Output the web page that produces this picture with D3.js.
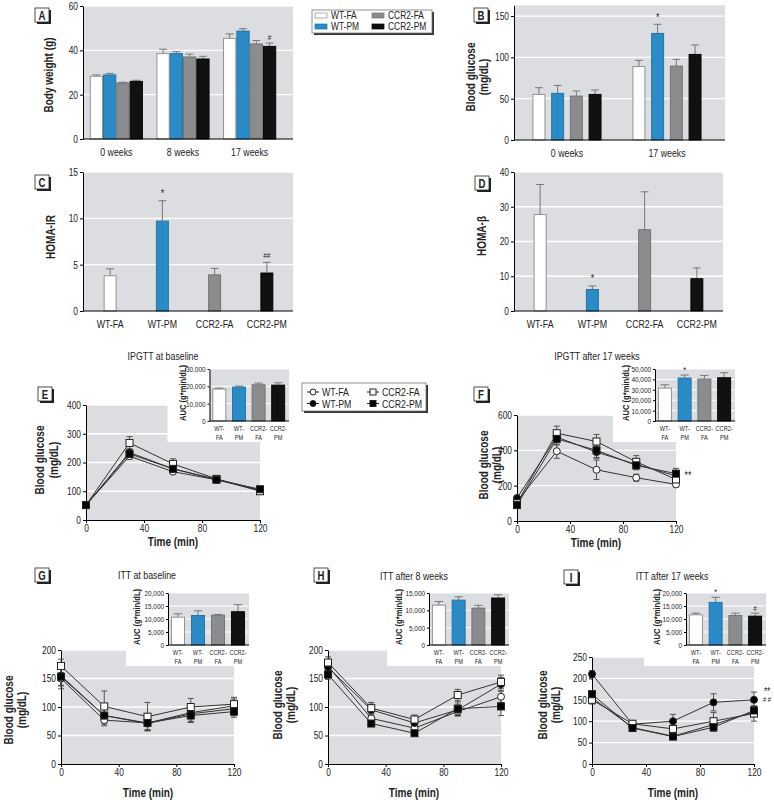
<!DOCTYPE html>
<html><head><meta charset="utf-8">
<script src="https://cdn.jsdelivr.net/npm/d3@7"></script>
<style>body{margin:0;background:#fff}</style>
</head><body>
<script>
// ---------------- DATA ----------------
const seriesNames = ["WT-FA","WT-PM","CCR2-FA","CCR2-PM"];
const insetLabels = [["WT-","FA"],["WT-","PM"],["CCR2-","FA"],["CCR2-","PM"]];

// A: body weight (g)
const bwCategories = ["0 weeks","8 weeks","17 weeks"];
const bwWTFA = [28.3,38.5,45.4],  bwWTFAse = [0.6,2.0,2.0];
const bwWTPM = [28.9,38.5,48.7],  bwWTPMse = [0.7,0.9,1.1];
const bwCCFA = [25.3,37.0,42.9],  bwCCFAse = [0.3,1.3,1.5];
const bwCCPM = [26.0,36.1,41.8],  bwCCPMse = [0.5,1.2,1.5];
const bwTicks = [0,20,40,60];
const bwMarks = [{cat:2, series:3, text:"#"}];

// B: blood glucose (mg/dL)
const bgCategories = ["0 weeks","17 weeks"];
const bgWTFA = [55.2,89.0],  bgWTFAse = [8.1,7.4];
const bgWTPM = [56.5,129.0], bgWTPMse = [9.5,11.0];
const bgCCFA = [53.2,89.5],  bgCCFAse = [6.1,8.1];
const bgCCPM = [55.2,103.6], bgCCPMse = [5.3,11.4];
const bgTicks = [0,50,100,150];
const bgMarks = [{cat:1, series:1, text:"*"}];

// C: HOMA-IR
const homaIR = [3.8,9.7,3.9,4.1], homaIRse = [0.75,2.2,0.7,1.15];
const homaIRTicks = [0,5,10,15];
const homaIRMarks = [{series:1,text:"*"},{series:3,text:"##"}];

// D: HOMA-beta
const homaB = [27.75,6.2,23.4,9.3], homaBse = [8.65,1.0,10.9,3.1];
const homaBTicks = [0,10,20,30,40];
const homaBMarks = [{series:1,text:"*"}];

// time points (min)
const times = [0,30,60,90,120];
const timeTicks = [0,40,80,120];

// E: IPGTT at baseline
const eWTFA = [52,222,168,140,103], eWTFAse = [4,10,8,6,6];
const eWTPM = [52,235,178,142,105], eWTPMse = [4,12,10,6,6];
const eCCFA = [52,268,195,143,100], eCCFAse = [4,22,18,6,6];
const eCCPM = [52,230,178,140,107], eCCPMse = [4,10,10,6,6];
const eTicks = [0,100,200,300,400];
const eAUC = [18400,19550,20900,20700], eAUCse = [600,600,950,1350];
const eAUCTicks = [0,10000,20000,30000];

// F: IPGTT after 17 weeks
const fWTFA = [110,395,290,245,207], fWTFAse = [10,40,55,20,15];
const fWTPM = [130,475,390,320,255], fWTPMse = [10,30,35,25,25];
const fCCFA = [100,497,450,335,235], fCCFAse = [10,40,40,35,25];
const fCCPM = [90,465,400,315,268],  fCCPMse = [10,35,40,25,30];
const fTicks = [0,200,400,600];
const fAUC = [31600,41300,40300,41600], fAUCse = [3200,2900,3550,4850];
const fAUCTicks = [0,10000,20000,30000,40000,50000];

// G: ITT at baseline
const gWTFA = [150,77,72,90,102],  gWTFAse = [18,10,12,15,12];
const gWTPM = [155,85,71,88,97],   gWTPMse = [18,12,12,15,12];
const gCCFA = [172,101,83,100,105],gCCFAse = [12,27,25,15,12];
const gCCPM = [153,85,72,85,92],   gCCPMse = [15,15,12,12,10];
const gTicks = [0,50,100,150,200];
const gAUC = [10700,11350,11500,12800], gAUCse = [1300,1800,250,2700];
const gAUCTicks = [0,5000,10000,15000,20000];

// H: ITT after 8 weeks
const hWTFA = [172,80,63,92,118],  hWTFAse = [8,8,8,8,10];
const hWTPM = [170,95,72,95,140],  hWTPMse = [8,10,8,10,12];
const hCCFA = [178,98,78,121,144], hCCFAse = [10,10,8,10,12];
const hCCPM = [157,71,54,97,101],  hCCPMse = [8,5,5,12,16];
const hTicks = [0,50,100,150,200];
const hAUC = [11500,12950,10650,13550], hAUCse = [1050,950,800,950];
const hAUCTicks = [0,5000,10000,15000];

// I: ITT after 17 weeks
const iWTFA = [155,85,65,92,122],  iWTFAse = [8,6,6,15,12];
const iWTPM = [210,93,100,144,150],iWTPMse = [8,8,16,20,18];
const iCCFA = [150,94,82,100,118], iCCFAse = [10,8,8,20,18];
const iCCPM = [163,84,64,86,125],  iCCPMse = [8,5,5,10,10];
const iTicks = [0,50,100,150,200,250];
const iAUC = [11600,16400,11350,11100], iAUCse = [650,1950,900,1150];
const iAUCTicks = [0,5000,10000,15000,20000];

// ---------------- STYLE ----------------
const FONT = "'Liberation Sans',Arial,sans-serif";
const CONDENSE = 0.8;
const BG = "#dcdde0";
const fills = ["#ffffff","#2b8bc6","#8b8c8e","#111111"];
const strokes = ["#8a8a8a","#1f6e9e","#6e6e6e","#000000"];
const markers = ["circle-open","circle","square-open","square"];

const svg = d3.select("body").append("svg").attr("width",774).attr("height",800)
  .style("font-family",FONT);

function txt(x,y,s,size,opts={}){
  const t = svg.append("text").attr("x",x).attr("y",y).text(s)
    .attr("font-size",size).attr("fill",opts.fill||"#222")
    .attr("text-anchor",opts.anchor||"middle")
    .attr("font-weight",opts.bold?"bold":"normal");
  if(opts.rotate) t.attr("transform",`rotate(-90,${x},${y})`).attr("dominant-baseline","central");
  return t;
}

function panelLabel(x,y,letter){
  svg.append("rect").attr("x",x+2).attr("y",y+2).attr("width",14).attr("height",14).attr("fill","#222");
  svg.append("rect").attr("x",x).attr("y",y).attr("width",14).attr("height",14).attr("fill","#fff").attr("stroke","#222").attr("stroke-width",0.8);
  txt(x+7,y+11.5,letter,12,{bold:true});
}

function frame(p){
  const y = d3.scaleLinear().domain([0,p.max]).range([p.y1,p.y0]);
  svg.append("rect").attr("x",p.x0).attr("y",y(p.max)).attr("width",p.x1-p.x0).attr("height",p.y1-y(p.max)).attr("fill",BG);
  svg.append("g").selectAll("line").data(p.ticks.filter(t=>t>0)).join("line")
    .attr("x1",p.x0).attr("x2",p.x1).attr("y1",d=>y(d)).attr("y2",d=>y(d))
    .attr("stroke","#fff").attr("stroke-width",p.gridW||1.3);
  return y;
}

function yAxis(p,y,fmt,size){
  const ax = d3.axisLeft(y).tickValues(p.ticks).tickSize(p.tick||3).tickSizeOuter(0).tickPadding(2);
  if(fmt) ax.tickFormat(fmt);
  const g = svg.append("g").attr("transform",`translate(${p.x0},0)`).call(ax);
  g.select(".domain").attr("stroke","#000").attr("stroke-width",1);
  g.selectAll(".tick line").attr("stroke","#000");
  g.selectAll("text").attr("font-family",FONT).attr("font-size",size).attr("fill","#222");
  return g;
}

function xBaseline(p){
  svg.append("line").attr("x1",p.x0).attr("x2",p.x1).attr("y1",p.y1).attr("y2",p.y1).attr("stroke","#000").attr("stroke-width",1);
}

function drawBars(y,bars,w,capW){
  const g = svg.append("g");
  g.selectAll("line.eb").data(bars).join("line").attr("class","eb")
    .attr("x1",d=>d.x).attr("x2",d=>d.x).attr("y1",d=>y(d.v)).attr("y2",d=>y(d.v+d.se))
    .attr("stroke","#777").attr("stroke-width",1);
  g.selectAll("line.cap").data(bars).join("line").attr("class","cap")
    .attr("x1",d=>d.x-capW/2).attr("x2",d=>d.x+capW/2).attr("y1",d=>y(d.v+d.se)).attr("y2",d=>y(d.v+d.se))
    .attr("stroke","#777").attr("stroke-width",1);
  g.selectAll("rect").data(bars).join("rect")
    .attr("x",d=>d.x-w/2+0.5).attr("y",d=>y(d.v)).attr("width",w-1).attr("height",d=>y(0)-y(d.v))
    .attr("fill",d=>fills[d.s]).attr("stroke",d=>strokes[d.s]).attr("stroke-width",0.9);
}

// ---------- grouped bar panel (A, B) ----------
function groupedPanel(p,cats,vals,ses,marks){
  const y = frame(p);
  const band = d3.scaleBand().domain(cats).range(p.band);
  const bars = [];
  cats.forEach((c,i)=>{
    const cx = band(c)+band.bandwidth()/2;
    vals.forEach((arr,j)=>bars.push({x:cx+(j-1.5)*p.step, v:arr[i], se:ses[j][i], s:j, c:i}));
  });
  drawBars(y,bars,p.barW,p.barW*0.6);
  yAxis(p,y,null,10.5);
  xBaseline(p);
  svg.append("g").selectAll("text").data(cats).join("text")
    .attr("x",c=>band(c)+band.bandwidth()/2).attr("y",p.y1+16.5).text(c=>c)
    .attr("text-anchor","middle").attr("font-size",11).attr("fill","#222");
  marks.forEach(m=>{
    const b = bars.find(b=>b.s===m.series && b.c===m.cat);
    txt(b.x,y(b.v+b.se)-3,m.text,m.text==="*"?11:8,{});
  });
}

// ---------- simple bar panel (C, D, insets) ----------
function simplePanel(p,vals,ses,marks,fmt,tickSize,labelSize,twoLine){
  const y = frame(p);
  const band = d3.scaleBand().domain(seriesNames).range(p.band);
  const bars = vals.map((v,i)=>({x:band(seriesNames[i])+band.bandwidth()/2, v, se:ses[i], s:i}));
  drawBars(y,bars,p.barW,p.barW*0.6);
  yAxis(p,y,fmt,tickSize);
  xBaseline(p);
  if(twoLine){
    const g = svg.append("g").selectAll("text").data(insetLabels).join("text")
      .attr("x",(d,i)=>bars[i].x).attr("y",p.y1+9.5).attr("text-anchor","middle")
      .attr("font-size",labelSize).attr("fill","#222").attr("data-condense",0.7);
    g.append("tspan").attr("x",(d,i)=>bars[i].x).text(d=>d[0]);
    g.append("tspan").attr("x",(d,i)=>bars[i].x).attr("dy",9).text(d=>d[1]);
  } else {
    svg.append("g").selectAll("text").data(seriesNames).join("text")
      .attr("x",(d,i)=>bars[i].x).attr("y",p.y1+16.5).text(d=>d)
      .attr("text-anchor","middle").attr("font-size",labelSize).attr("fill","#222");
  }
  marks.forEach(m=>{
    const b = bars[m.series];
    const big = !twoLine;
    txt(b.x,y(b.v+b.se)-(big?4:2.5),m.text,m.text==="*"?(big?11:9):(big?8:7),{});
  });
}

// ---------- line panel (E-I) ----------
function drawMarker(g,kind,x,y,sz){
  if(kind.startsWith("circle")){
    g.append("circle").attr("cx",x).attr("cy",y).attr("r",sz/2)
      .attr("fill",kind==="circle"?"#000":"#fff").attr("stroke","#222").attr("stroke-width",1);
  } else {
    g.append("rect").attr("x",x-sz/2).attr("y",y-sz/2).attr("width",sz).attr("height",sz)
      .attr("fill",kind==="square"?"#000":"#fff").attr("stroke","#222").attr("stroke-width",1);
  }
}

function linePanel(p,series,ses,inset){
  const y = frame(p);
  const x = d3.scaleLinear().domain([0,120]).range([p.x0,p.x1]);
  svg.append("rect").attr("x",inset.x0-42).attr("y",p.y0-2).attr("width",p.x1-(inset.x0-42)+2)
    .attr("height",inset.y1+21-(p.y0-2)).attr("fill","#fff");
  yAxis(p,y,null,10.5);
  const ax = d3.axisBottom(x).tickValues(timeTicks).tickSize(3).tickSizeOuter(0).tickPadding(2);
  const gx = svg.append("g").attr("transform",`translate(0,${p.y1})`).call(ax);
  gx.select(".domain").attr("stroke","#000");
  gx.selectAll(".tick line").attr("stroke","#000");
  gx.selectAll("text").attr("font-family",FONT).attr("font-size",10.5).attr("fill","#222");
  const g = svg.append("g");
  series.forEach((arr,j)=>{
    arr.forEach((v,i)=>{
      const xx = x(times[i]), lo = y(v-ses[j][i]), hi = y(v+ses[j][i]);
      g.append("line").attr("x1",xx).attr("x2",xx).attr("y1",lo).attr("y2",hi).attr("stroke","#444").attr("stroke-width",0.9);
      [lo,hi].forEach(yy=>g.append("line").attr("x1",xx-3).attr("x2",xx+3).attr("y1",yy).attr("y2",yy).attr("stroke","#444").attr("stroke-width",0.9));
    });
  });
  const line = d3.line().x((d,i)=>x(times[i])).y(d=>y(d));
  series.forEach(arr=>g.append("path").attr("d",line(arr)).attr("fill","none").attr("stroke","#333").attr("stroke-width",1));
  series.forEach((arr,j)=>arr.forEach((v,i)=>drawMarker(g,markers[j],x(times[i]),y(v),7)));
  return {x,y};
}

// ================= PANELS =================
// Legend (top)
(function(){
  const lx=312, ly=10, w=120, h=23;
  svg.append("rect").attr("x",lx+2).attr("y",ly+2).attr("width",w).attr("height",h).attr("fill","#333");
  svg.append("rect").attr("x",lx).attr("y",ly).attr("width",w).attr("height",h).attr("fill","#fff").attr("stroke","#777").attr("stroke-width",0.8);
  const pos = [[315,15.5],[315,26.5],[372,15.5],[372,26.5]];
  seriesNames.forEach((n,i)=>{
    svg.append("rect").attr("x",pos[i][0]).attr("y",pos[i][1]-2.5).attr("width",12).attr("height",5)
      .attr("fill",fills[i]).attr("stroke",strokes[i]).attr("stroke-width",0.7);
    txt(pos[i][0]+16,pos[i][1]+3.8,n,10.5,{anchor:"start"});
  });
})();

// A
panelLabel(35,8,"A");
groupedPanel({x0:83,x1:293,y0:6,y1:139,max:60,ticks:bwTicks,band:[83,283],step:13.3,barW:13.3},
  bwCategories,[bwWTFA,bwWTPM,bwCCFA,bwCCPM],[bwWTFAse,bwWTPMse,bwCCFAse,bwCCPMse],bwMarks);
txt(48.5,75,"Body weight (g)",12.5,{bold:true,rotate:true});

// B
panelLabel(474,8,"B");
groupedPanel({x0:514,x1:725,y0:5.3,y1:140,max:163,ticks:bgTicks,band:[517,717],step:18.7,barW:13},
  bgCategories,[bgWTFA,bgWTPM,bgCCFA,bgCCPM],[bgWTFAse,bgWTPMse,bgCCFAse,bgCCPMse],bgMarks);
txt(471,77,"Blood glucose",12.5,{bold:true,rotate:true});
txt(484,77,"(mg/dL)",12.5,{bold:true,rotate:true});

// C
panelLabel(35,175,"C");
simplePanel({x0:83,x1:293,y0:172,y1:311,max:15,ticks:homaIRTicks,band:[84,293],barW:13},
  homaIR,homaIRse,homaIRMarks,null,10.5,11,false);
txt(50.5,237,"HOMA-IR",12.5,{bold:true,rotate:true});

// D
panelLabel(475,176,"D");
simplePanel({x0:514,x1:723,y0:172,y1:311,max:40,ticks:homaBTicks,band:[514,723],barW:13},
  homaB,homaBse,homaBMarks,null,10.5,11,false);
txt(482,236,"HOMA-β",12.5,{bold:true,rotate:true});

function inset(p,vals,ses,marks,yTitleX){
  simplePanel(p,vals,ses,marks,d3.format(","),8,8,true);
  txt(yTitleX,(p.y0+p.y1)/2-2,"AUC (g*min/dL)",9.5,{bold:true,rotate:true});
}

// E
panelLabel(38,387,"E");
txt(163,360,"IPGTT at baseline",11);
const pE = {x0:86,x1:260,y0:405,y1:520,max:400,ticks:eTicks};
const iE = {x0:209.5,x1:289,y0:369,y1:421,max:30000,ticks:eAUCTicks,band:[209.5,288],barW:14,tick:2,gridW:1};
linePanel(pE,[eWTFA,eWTPM,eCCFA,eCCPM],[eWTFAse,eWTPMse,eCCFAse,eCCPMse],iE);
inset(iE,eAUC,eAUCse,[],182);
txt(40,460,"Blood glucose",12.5,{bold:true,rotate:true});
txt(54,460,"(mg/dL)",12.5,{bold:true,rotate:true});
txt(173,546,"Time (min)",12.5,{bold:true});

// E legend
(function(){
  const lx=302, ly=383, w=124, h=28;
  svg.append("rect").attr("x",lx+2).attr("y",ly+2).attr("width",w).attr("height",h).attr("fill","#333");
  svg.append("rect").attr("x",lx).attr("y",ly).attr("width",w).attr("height",h).attr("fill","#fff").attr("stroke","#777").attr("stroke-width",0.8);
  const pos = [[313,392],[313,403.5],[373,392],[373,403.5]];
  const g = svg.append("g");
  seriesNames.forEach((n,i)=>{
    g.append("line").attr("x1",pos[i][0]-6).attr("x2",pos[i][0]+6).attr("y1",pos[i][1]).attr("y2",pos[i][1]).attr("stroke","#222");
    drawMarker(g,markers[i],pos[i][0],pos[i][1],6);
    txt(pos[i][0]+9,pos[i][1]+4,n,11,{anchor:"start"});
  });
})();

// F
panelLabel(474,387,"F");
txt(597,360,"IPGTT after 17 weeks",11);
const pF = {x0:517,x1:676,y0:415,y1:521,max:600,ticks:fTicks};
const iF = {x0:655,x1:735,y0:369,y1:421,max:50000,ticks:fAUCTicks,band:[655,734],barW:14,tick:2,gridW:1};
const lf = linePanel(pF,[fWTFA,fWTPM,fCCFA,fCCPM],[fWTFAse,fWTPMse,fCCFAse,fCCPMse],iF);
inset(iF,fAUC,fAUCse,[{series:1,text:"*"}],625);
txt(688,lf.y(fCCPM[4])+5,"**",11);
txt(484,465,"Blood glucose",12.5,{bold:true,rotate:true});
txt(497,465,"(mg/dL)",12.5,{bold:true,rotate:true});
txt(596,547,"Time (min)",12.5,{bold:true});

// G
panelLabel(35,568,"G");
txt(147,579,"ITT at baseline",11);
const pG = {x0:61,x1:234,y0:650,y1:764,max:200,ticks:gTicks};
const iG = {x0:168,x1:249,y0:593,y1:645,max:20000,ticks:gAUCTicks,band:[168,248],barW:14,tick:2,gridW:1};
linePanel(pG,[gWTFA,gWTPM,gCCFA,gCCPM],[gWTFAse,gWTPMse,gCCFAse,gCCPMse],iG);
inset(iG,gAUC,gAUCse,[],136);
txt(9,710,"Blood glucose",12.5,{bold:true,rotate:true});
txt(22,710,"(mg/dL)",12.5,{bold:true,rotate:true});
txt(148,797,"Time (min)",12.5,{bold:true});

// H
panelLabel(314,568,"H");
txt(414,580,"ITT after 8 weeks",11);
const pH = {x0:328,x1:501,y0:650,y1:764,max:200,ticks:hTicks};
const iH = {x0:429,x1:509,y0:593,y1:645,max:15000,ticks:hAUCTicks,band:[429,508],barW:14,tick:2,gridW:1};
linePanel(pH,[hWTFA,hWTPM,hCCFA,hCCPM],[hWTFAse,hWTPMse,hCCFAse,hCCPMse],iH);
inset(iH,hAUC,hAUCse,[],398);
txt(278,705,"Blood glucose",12.5,{bold:true,rotate:true});
txt(291,705,"(mg/dL)",12.5,{bold:true,rotate:true});
txt(414,797,"Time (min)",12.5,{bold:true});

// I
panelLabel(564,570,"I");
txt(672,580,"ITT after 17 weeks",11);
const pI = {x0:592,x1:754,y0:657,y1:764,max:250,ticks:iTicks};
const iI = {x0:686,x1:766,y0:593,y1:645,max:20000,ticks:iAUCTicks,band:[686,765],barW:14,tick:2,gridW:1};
const li = linePanel(pI,[iWTFA,iWTPM,iCCFA,iCCPM],[iWTFAse,iWTPMse,iCCFAse,iCCPMse],iI);
inset(iI,iAUC,iAUCse,[{series:1,text:"*"},{series:3,text:"#"}],656);
txt(767,li.y(173)+5,"**",10);
txt(767,li.y(154)+4,"# #",7);
txt(543,705,"Blood glucose",12.5,{bold:true,rotate:true});
txt(556,705,"(mg/dL)",12.5,{bold:true,rotate:true});
txt(673,797,"Time (min)",12.5,{bold:true});

// condensed type: narrow every text run (reference uses a condensed face)
svg.selectAll("text").each(function(){
  const el = this;
  const f = +(el.getAttribute("data-condense") || CONDENSE);
  const spans = el.querySelectorAll("tspan");
  const targets = spans.length ? Array.from(spans) : [el];
  targets.forEach(t=>{
    const w = t.getComputedTextLength();
    if(w>0){ t.setAttribute("textLength", (w*f).toFixed(2)); t.setAttribute("lengthAdjust","spacingAndGlyphs"); }
  });
});
</script>
</body></html>
